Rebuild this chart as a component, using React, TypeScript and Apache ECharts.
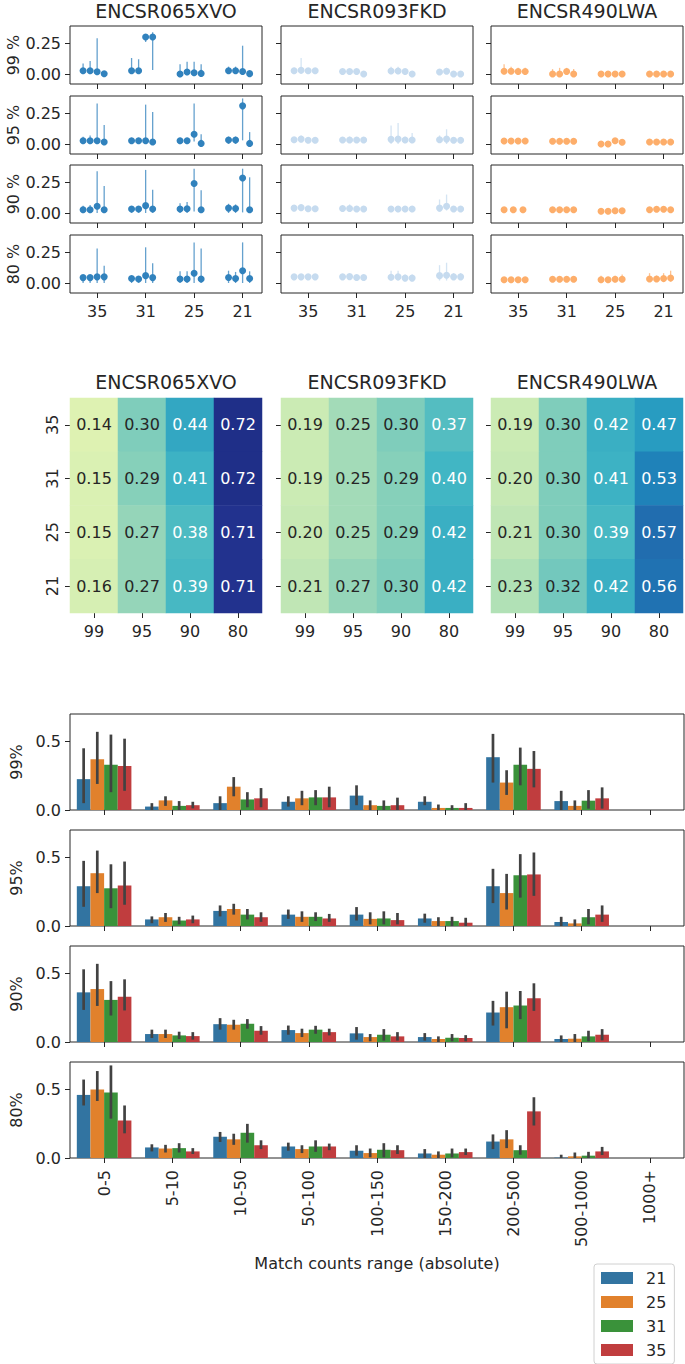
import React, { useEffect, useRef } from "react";
import * as echarts from "echarts";

// ---------- data ----------
const datasets = ["ENCSR065XVO", "ENCSR093FKD", "ENCSR490LWA"];
const thresholdRowLabels = ["99 %", "95 %", "90 %", "80 %"];
const thresholdBarLabels = ["99%", "95%", "90%", "80%"];
const kmers = ["35", "31", "25", "21"];
const heatCols = ["99", "95", "90", "80"];
const hues = ["21", "25", "31", "35"];
const ranges = ["0-5", "5-10", "10-50", "50-100", "100-150", "150-200", "200-500", "500-1000", "1000+"];

// point estimates [value, low, high]; per threshold row -> per k-mer -> points
const points065XVO = [
  [
    [[0.027, 0, 0.085], [0.027, 0, 0.105], [0.018, 0, 0.29], [0.002, 0, 0.01]],
    [[0.027, 0, 0.13], [0.027, 0, 0.12], [0.3, 0.26, 0.32], [0.3, 0.033, 0.34]],
    [[0, 0, 0.08], [0.017, 0, 0.1], [0.01, 0, 0.1], [0.005, 0, 0.08]],
    [[0.027, 0, 0.06], [0.027, 0, 0.06], [0.02, 0, 0.23], [0.003, 0, 0.01]],
  ],
  [
    [[0.027, 0, 0.06], [0.027, 0, 0.07], [0.027, 0, 0.33], [0.016, 0, 0.155]],
    [[0.027, 0, 0.05], [0.027, 0, 0.05], [0.027, 0, 0.32], [0.016, 0, 0.26]],
    [[0.027, 0, 0.05], [0.027, 0, 0.05], [0.08, 0.02, 0.33], [0.005, 0, 0.08]],
    [[0.033, 0, 0.06], [0.033, 0, 0.06], [0.31, 0.03, 0.37], [0.005, 0, 0.097]],
  ],
  [
    [[0.027, 0, 0.06], [0.027, 0, 0.065], [0.055, 0, 0.34], [0.027, 0, 0.22]],
    [[0.033, 0, 0.05], [0.033, 0, 0.05], [0.06, 0, 0.35], [0.033, 0, 0.19]],
    [[0.033, 0, 0.08], [0.035, 0, 0.09], [0.24, 0.012, 0.36], [0.027, 0, 0.185]],
    [[0.04, 0, 0.075], [0.037, 0, 0.07], [0.285, 0.005, 0.36], [0.027, 0, 0.29]],
  ],
  [
    [[0.044, 0, 0.06], [0.044, 0, 0.06], [0.05, 0, 0.28], [0.05, 0, 0.14]],
    [[0.036, 0, 0.05], [0.033, 0, 0.05], [0.06, 0, 0.29], [0.044, 0, 0.16]],
    [[0.033, 0, 0.095], [0.033, 0, 0.095], [0.08, 0, 0.33], [0.033, 0, 0.28]],
    [[0.045, 0, 0.1], [0.036, 0, 0.09], [0.1, 0, 0.33], [0.036, 0, 0.095]],
  ],
];
const points093FKD = [
  [
    [[0.027, 0.01, 0.05], [0.03, 0, 0.13], [0.027, 0.01, 0.045], [0.027, 0.01, 0.045]],
    [[0.02, 0.005, 0.04], [0.02, 0.005, 0.04], [0.02, 0.005, 0.04], [0, 0, 0.01]],
    [[0.025, 0, 0.06], [0.025, 0, 0.06], [0.02, 0, 0.04], [0, 0, 0.01]],
    [[0.016, 0, 0.04], [0.022, 0, 0.05], [0, 0, 0.01], [0, 0, 0.01]],
  ],
  [
    [[0.035, 0.02, 0.05], [0.04, 0.02, 0.07], [0.03, 0.015, 0.045], [0.03, 0.015, 0.045]],
    [[0.033, 0.02, 0.05], [0.033, 0.02, 0.06], [0.033, 0.02, 0.05], [0.033, 0.02, 0.05]],
    [[0.038, 0, 0.15], [0.04, 0, 0.17], [0.033, 0.01, 0.06], [0.033, 0.01, 0.09]],
    [[0.035, 0.01, 0.07], [0.04, 0, 0.12], [0.03, 0.015, 0.05], [0.03, 0.015, 0.05]],
  ],
  [
    [[0.04, 0.02, 0.06], [0.044, 0.02, 0.07], [0.035, 0.02, 0.05], [0.035, 0.02, 0.05]],
    [[0.037, 0.02, 0.06], [0.037, 0.02, 0.07], [0.033, 0.02, 0.05], [0.033, 0.02, 0.05]],
    [[0.033, 0.02, 0.05], [0.033, 0.02, 0.05], [0.033, 0.02, 0.05], [0.033, 0.02, 0.05]],
    [[0.04, 0.01, 0.11], [0.055, 0.02, 0.15], [0.033, 0.02, 0.05], [0.033, 0.02, 0.05]],
  ],
  [
    [[0.05, 0.035, 0.065], [0.05, 0.035, 0.065], [0.05, 0.035, 0.065], [0.05, 0.035, 0.065]],
    [[0.05, 0.035, 0.065], [0.052, 0.035, 0.07], [0.045, 0.03, 0.06], [0.045, 0.03, 0.06]],
    [[0.047, 0.02, 0.1], [0.05, 0.02, 0.1], [0.04, 0.02, 0.07], [0.04, 0.02, 0.07]],
    [[0.06, 0.02, 0.145], [0.063, 0.02, 0.165], [0.05, 0.03, 0.08], [0.05, 0.03, 0.08]],
  ],
];
const points490LWA = [
  [
    [[0.022, 0.01, 0.08], [0.022, 0.01, 0.06], [0.02, 0.005, 0.05], [0.02, 0.005, 0.05]],
    [[0, 0, 0.04], [0, 0, 0.05], [0.02, 0, 0.05], [0, 0, 0.04]],
    [[0, 0, 0.01], [0, 0, 0.01], [0, 0, 0.01], [0, 0, 0.01]],
    [[0, 0, 0.01], [0, 0, 0.01], [0, 0, 0.01], [0, 0, 0.01]],
  ],
  [
    [[0.025, 0.015, 0.035], [0.025, 0.015, 0.035], [0.025, 0.015, 0.035], [0.025, 0.015, 0.035]],
    [[0.022, 0.012, 0.032], [0.022, 0.012, 0.032], [0.022, 0.012, 0.032], [0.022, 0.012, 0.032]],
    [[0, 0, 0.01], [0, 0, 0.01], [0.027, 0.01, 0.04], [0.014, 0, 0.03]],
    [[0.016, 0.005, 0.03], [0.016, 0.005, 0.03], [0.016, 0.005, 0.03], [0.016, 0.005, 0.03]],
  ],
  [
    [[0.027, 0.02, 0.035], [0.027, 0.02, 0.035], [0.027, 0.02, 0.035]],
    [[0.027, 0.015, 0.04], [0.027, 0.015, 0.04], [0.027, 0.015, 0.04], [0.027, 0.015, 0.04]],
    [[0.014, 0.005, 0.025], [0.014, 0.005, 0.025], [0.019, 0.005, 0.03], [0.019, 0.005, 0.03]],
    [[0.027, 0.01, 0.04], [0.03, 0.01, 0.05], [0.03, 0.01, 0.05], [0.027, 0.01, 0.04]],
  ],
  [
    [[0.027, 0.015, 0.04], [0.027, 0.015, 0.04], [0.027, 0.015, 0.04], [0.027, 0.015, 0.04]],
    [[0.03, 0.02, 0.04], [0.03, 0.02, 0.04], [0.03, 0.02, 0.04], [0.03, 0.02, 0.04]],
    [[0.027, 0.01, 0.06], [0.027, 0.01, 0.05], [0.03, 0.01, 0.06], [0.03, 0.01, 0.07]],
    [[0.033, 0.01, 0.08], [0.033, 0.01, 0.06], [0.036, 0.01, 0.08], [0.041, 0.01, 0.1]],
  ],
];
const pointsByDataset = [points065XVO, points093FKD, points490LWA];

// heatmaps: rows = k-mers (35,31,25,21), cols = thresholds (99,95,90,80)
const heat065XVO = [
  [0.14, 0.30, 0.44, 0.72],
  [0.15, 0.29, 0.41, 0.72],
  [0.15, 0.27, 0.38, 0.71],
  [0.16, 0.27, 0.39, 0.71],
];
const heat093FKD = [
  [0.19, 0.25, 0.30, 0.37],
  [0.19, 0.25, 0.29, 0.40],
  [0.20, 0.25, 0.29, 0.42],
  [0.21, 0.27, 0.30, 0.42],
];
const heat490LWA = [
  [0.19, 0.30, 0.42, 0.47],
  [0.20, 0.30, 0.41, 0.53],
  [0.21, 0.30, 0.39, 0.57],
  [0.23, 0.32, 0.42, 0.56],
];
const heatByDataset = [heat065XVO, heat093FKD, heat490LWA];

// bar means per hue (21,25,31,35) over ranges
const bars99 = [
  [0.225, 0.025, 0.05, 0.06, 0.105, 0.06, 0.385, 0.065, null],
  [0.37, 0.07, 0.17, 0.085, 0.035, 0.015, 0.2, 0.03, null],
  [0.33, 0.03, 0.077, 0.092, 0.03, 0.015, 0.33, 0.068, null],
  [0.32, 0.035, 0.085, 0.092, 0.035, 0.015, 0.3, 0.085, null],
];
const errs99 = [
  [[0.05, 0.45], [0, 0.05], [0, 0.1], [0.025, 0.1], [0.035, 0.18], [0.035, 0.1], [0.2, 0.555], [0, 0.14], null],
  [[0.19, 0.57], [0.03, 0.1], [0.1, 0.24], [0.035, 0.14], [0, 0.07], [0, 0.04], [0.11, 0.29], [0, 0.07], null],
  [[0.13, 0.55], [0, 0.065], [0.02, 0.13], [0.035, 0.145], [0, 0.07], [0, 0.035], [0.18, 0.455], [0.01, 0.145], null],
  [[0.14, 0.52], [0.012, 0.06], [0.02, 0.16], [0.02, 0.17], [0, 0.09], [0, 0.05], [0.165, 0.43], [0.01, 0.165], null],
];
const bars95 = [
  [0.29, 0.048, 0.11, 0.083, 0.083, 0.055, 0.29, 0.029, null],
  [0.385, 0.064, 0.124, 0.067, 0.052, 0.036, 0.24, 0.019, null],
  [0.275, 0.04, 0.083, 0.067, 0.055, 0.036, 0.37, 0.064, null],
  [0.295, 0.048, 0.064, 0.055, 0.043, 0.024, 0.376, 0.083, null],
];
const errs95 = [
  [[0.14, 0.475], [0.02, 0.07], [0.07, 0.15], [0.052, 0.12], [0.04, 0.138], [0.024, 0.09], [0.167, 0.417], [0, 0.067], null],
  [[0.24, 0.55], [0.03, 0.095], [0.083, 0.162], [0.03, 0.107], [0.012, 0.1], [0, 0.064], [0.12, 0.38], [0, 0.048], null],
  [[0.13, 0.45], [0.012, 0.067], [0.048, 0.124], [0.036, 0.1], [0.012, 0.107], [0, 0.067], [0.207, 0.524], [0.012, 0.124], null],
  [[0.155, 0.47], [0.02, 0.076], [0.03, 0.1], [0.03, 0.088], [0.012, 0.095], [0, 0.06], [0.22, 0.536], [0.03, 0.15], null],
];
const bars90 = [
  [0.362, 0.058, 0.13, 0.087, 0.063, 0.036, 0.215, 0.022, null],
  [0.386, 0.058, 0.126, 0.065, 0.036, 0.022, 0.254, 0.024, null],
  [0.307, 0.048, 0.133, 0.09, 0.053, 0.031, 0.266, 0.041, null],
  [0.33, 0.043, 0.082, 0.072, 0.041, 0.029, 0.319, 0.053, null],
];
const errs90 = [
  [[0.234, 0.53], [0.029, 0.09], [0.09, 0.174], [0.053, 0.12], [0.017, 0.109], [0.01, 0.065], [0.12, 0.3], [0, 0.048], null],
  [[0.263, 0.57], [0.029, 0.09], [0.09, 0.162], [0.036, 0.097], [0.005, 0.058], [0, 0.041], [0.1, 0.367], [0, 0.058], null],
  [[0.193, 0.444], [0.022, 0.075], [0.097, 0.167], [0.06, 0.118], [0.01, 0.094], [0.005, 0.058], [0.167, 0.372], [0.005, 0.082], null],
  [[0.23, 0.457], [0.017, 0.072], [0.053, 0.116], [0.048, 0.097], [0.01, 0.072], [0.005, 0.05], [0.227, 0.428], [0.012, 0.094], null],
];
const bars80 = [
  [0.46, 0.077, 0.155, 0.084, 0.053, 0.033, 0.12, 0.003, null],
  [0.5, 0.069, 0.136, 0.065, 0.036, 0.024, 0.136, 0.012, null],
  [0.478, 0.072, 0.184, 0.084, 0.06, 0.033, 0.057, 0.017, null],
  [0.273, 0.048, 0.093, 0.084, 0.057, 0.043, 0.34, 0.048, null],
];
const errs80 = [
  [[0.383, 0.572], [0.048, 0.1], [0.117, 0.19], [0.053, 0.112], [0.017, 0.093], [0, 0.065], [0.065, 0.172], [0, 0.024], null],
  [[0.416, 0.634], [0.04, 0.096], [0.096, 0.177], [0.036, 0.093], [0.005, 0.069], [0, 0.048], [0.072, 0.203], [0, 0.04], null],
  [[0.287, 0.675], [0.04, 0.108], [0.112, 0.249], [0.045, 0.129], [0.005, 0.108], [0.005, 0.069], [0.024, 0.093], [0, 0.045], null],
  [[0.18, 0.383], [0.029, 0.072], [0.065, 0.129], [0.057, 0.105], [0.029, 0.093], [0.022, 0.069], [0.237, 0.443], [0.022, 0.081], null],
];
const barsByThreshold = [bars99, bars95, bars90, bars80];
const errsByThreshold = [errs99, errs95, errs90, errs80];

// ---------- styling / layout ----------
const FONT = "DejaVu Sans";
const TXT = "#262626";
const dotColors = ["#3182bd", "#c6dbef", "#fdae6b"];
const hueColors = ["#3274a1", "#e1812c", "#3a923a", "#c03d3e"];
const ylgnbu = ["#ffffd9", "#edf8b1", "#c7e9b4", "#7fcdbb", "#41b6c4", "#1d91c0", "#225ea8", "#253494", "#081d58"];
const dodge4 = [-0.29, -0.145, 0, 0.145];
const dodge3 = [-0.29, -0.1, 0.1];
const colLeft = [70, 281, 491];
const colW = 192;
const dotTop = [26, 96, 165, 235];
const dotH = 58;
const heatTop = 398;
const heatH = 215;
const barTop = [714, 830, 946, 1062];
const barH = 96;

function buildOption() {
  const grid: any[] = [];
  const xAxis: any[] = [];
  const yAxis: any[] = [];
  const series: any[] = [];
  const graphic: any[] = [];
  const heatSeriesIdx: number[] = [];

  // column titles
  datasets.forEach((name, c) => {
    [11, 382].forEach((y) => {
      graphic.push({
        type: "text",
        x: colLeft[c] + colW / 2,
        y,
        style: {
          text: name,
          fontSize: 19,
          fontFamily: FONT,
          fill: TXT,
          align: "center",
          verticalAlign: "middle",
          textAlign: "center",
          textVerticalAlign: "middle",
        },
      });
    });
  });

  // ---- point plots ----
  for (let r = 0; r < 4; r++) {
    for (let c = 0; c < 3; c++) {
      const gi = grid.length;
      grid.push({
        left: colLeft[c], top: dotTop[r], width: colW, height: dotH,
        show: true, borderColor: TXT, borderWidth: 1, backgroundColor: "transparent",
      });
      xAxis.push({
        type: "value", gridIndex: gi, min: -0.56, max: 3.4,
        axisLine: { show: false, onZero: false }, splitLine: { show: false },
        axisTick: { show: true, customValues: [0, 1, 2, 3], length: 5, lineStyle: { color: TXT } },
        axisLabel: {
          show: r === 3, customValues: [0, 1, 2, 3], margin: 10,
          formatter: (v: number) => kmers[Math.round(v)] ?? "",
          fontSize: 16, fontFamily: FONT, color: TXT,
        },
      });
      yAxis.push({
        type: "value", gridIndex: gi, min: -0.081, max: 0.39,
        axisLine: { show: false, onZero: false }, splitLine: { show: false },
        axisTick: { show: true, customValues: [0, 0.25], length: 5, lineStyle: { color: TXT } },
        axisLabel: {
          show: c === 0, customValues: [0, 0.25], margin: 9,
          formatter: (v: number) => v.toFixed(2),
          fontSize: 16, fontFamily: FONT, color: TXT,
        },
        name: c === 0 ? thresholdRowLabels[r] : "",
        nameLocation: "middle", nameRotate: 90, nameGap: 49,
        nameTextStyle: { fontSize: 16, fontFamily: FONT, color: TXT },
      });
      const pts = pointsByDataset[c][r];
      const scat: number[][] = [];
      const errs: number[][] = [];
      pts.forEach((group, k) => {
        const offs = group.length === 3 ? dodge3 : dodge4;
        group.forEach((p, j) => {
          const x = k + offs[j];
          scat.push([x, p[0]]);
          errs.push([x, p[1], p[2]]);
        });
      });
      const col = dotColors[c];
      series.push({
        type: "custom", xAxisIndex: gi, yAxisIndex: gi, silent: true,
        encode: { x: 0, y: [1, 2] },
        data: errs,
        renderItem: (_p: any, api: any) => {
          const a = api.coord([api.value(0), api.value(1)]);
          const b = api.coord([api.value(0), api.value(2)]);
          return {
            type: "line",
            shape: { x1: a[0], y1: a[1], x2: b[0], y2: b[1] },
            style: { stroke: col, lineWidth: 1.3, opacity: 0.75 },
          };
        },
      });
      series.push({
        type: "scatter", xAxisIndex: gi, yAxisIndex: gi, silent: true,
        symbol: "circle", symbolSize: 7, data: scat,
        itemStyle: { color: col, opacity: 1 },
        z: 3,
      });
    }
  }

  // ---- heatmaps ----
  for (let c = 0; c < 3; c++) {
    const gi = grid.length;
    grid.push({ left: colLeft[c], top: heatTop, width: colW, height: heatH });
    xAxis.push({
      type: "category", gridIndex: gi, data: heatCols,
      axisLine: { show: false, onZero: false }, splitLine: { show: false },
      axisTick: { show: true, alignWithLabel: true, length: 5, lineStyle: { color: TXT } },
      axisLabel: { fontSize: 16, fontFamily: FONT, color: TXT, margin: 10 },
    });
    yAxis.push({
      type: "category", gridIndex: gi, data: kmers, inverse: true,
      axisLine: { show: false, onZero: false }, splitLine: { show: false },
      axisTick: { show: true, alignWithLabel: true, length: 5, lineStyle: { color: TXT } },
      axisLabel: { show: c === 0, rotate: 90, fontSize: 16, fontFamily: FONT, color: TXT, margin: 10 },
    });
    const data: any[] = [];
    heatByDataset[c].forEach((row, yi) => {
      row.forEach((v, xi) => {
        data.push({ value: [xi, yi, v], label: { color: v > 0.34 ? "#ffffff" : TXT } });
      });
    });
    heatSeriesIdx.push(series.length);
    series.push({
      type: "heatmap", xAxisIndex: gi, yAxisIndex: gi, silent: true,
      data,
      itemStyle: { borderWidth: 0 },
      label: {
        show: true, fontSize: 16, fontFamily: FONT,
        formatter: (p: any) => p.value[2].toFixed(2),
      },
      emphasis: { disabled: true },
    });
  }

  // ---- bar charts ----
  for (let r = 0; r < 4; r++) {
    const gi = grid.length;
    grid.push({
      left: 70, top: barTop[r], width: 614, height: barH,
      show: true, borderColor: TXT, borderWidth: 1, backgroundColor: "transparent",
    });
    xAxis.push({
      type: "category", gridIndex: gi, data: ranges,
      axisLine: { show: false, onZero: false }, splitLine: { show: false },
      axisTick: { show: true, alignWithLabel: true, length: 5, lineStyle: { color: TXT } },
      axisLabel: {
        show: r === 3, rotate: 90, fontSize: 16, fontFamily: FONT, color: TXT, margin: 12,
      },
      name: r === 3 ? "Match counts range (absolute)" : "",
      nameLocation: "middle", nameGap: 97,
      nameTextStyle: { fontSize: 16, fontFamily: FONT, color: TXT },
    });
    yAxis.push({
      type: "value", gridIndex: gi, min: 0, max: 0.7,
      axisLine: { show: false, onZero: false }, splitLine: { show: false },
      axisTick: { show: true, customValues: [0, 0.5], length: 5, lineStyle: { color: TXT } },
      axisLabel: {
        customValues: [0, 0.5], formatter: (v: number) => v.toFixed(1), margin: 9,
        fontSize: 16, fontFamily: FONT, color: TXT,
      },
      name: thresholdBarLabels[r], nameLocation: "middle", nameRotate: 90, nameGap: 44,
      nameTextStyle: { fontSize: 16, fontFamily: FONT, color: TXT },
    });
    const means = barsByThreshold[r];
    const errs = errsByThreshold[r];
    hues.forEach((h, hi) => {
      series.push({
        type: "bar", name: h, xAxisIndex: gi, yAxisIndex: gi, silent: true,
        data: means[hi], barGap: "0%", barCategoryGap: "20%",
        itemStyle: { color: hueColors[hi] },
      });
    });
    const errData: number[][] = [];
    errs.forEach((hueErrs, hi) => {
      hueErrs.forEach((e, ci) => {
        if (e) errData.push([ci, hi, e[0], e[1]]);
      });
    });
    series.push({
      type: "custom", xAxisIndex: gi, yAxisIndex: gi, silent: true, z: 5,
      encode: { x: 0, y: [2, 3] },
      data: errData,
      renderItem: (_p: any, api: any) => {
        const ci = api.value(0);
        const hi = api.value(1);
        const base = api.coord([ci, 0]);
        const bw = api.size([1, 0])[0];
        const x = base[0] + (hi - 1.5) * bw * 0.2;
        const y1 = api.coord([ci, api.value(2)])[1];
        const y2 = api.coord([ci, api.value(3)])[1];
        return {
          type: "line",
          shape: { x1: x, y1, x2: x, y2 },
          style: { stroke: "#424242", lineWidth: 2.7 },
        };
      },
    });
  }

  return {
    animation: false,
    textStyle: { fontFamily: FONT },
    grid, xAxis, yAxis, series, graphic,
    visualMap: {
      show: false, type: "continuous", min: 0, max: 0.8, dimension: 2,
      seriesIndex: heatSeriesIdx,
      inRange: { color: ylgnbu },
    },
    legend: {
      data: hues, orient: "vertical", left: 594, top: 1264,
      icon: "rect", itemWidth: 32, itemHeight: 12, itemGap: 8,
      selectedMode: false,
      backgroundColor: "#ffffff",
      borderColor: "#d0d0d0", borderWidth: 1, borderRadius: 3,
      padding: [6, 8, 6, 7],
      textStyle: { fontSize: 16, fontFamily: FONT, color: TXT, lineHeight: 16, padding: [0, 0, 0, 8] },
    },
  };
}

export default function App() {
  const ref = useRef<HTMLDivElement>(null);
  useEffect(() => {
    if (!ref.current) return;
    const chart = echarts.init(ref.current, null, { renderer: "svg" });
    chart.setOption(buildOption() as any);
    return () => chart.dispose();
  }, []);
  return (
    <div
      ref={ref}
      style={{ position: "absolute", left: 0, top: 0, width: 685, height: 1364, background: "#fff" }}
    />
  );
}
